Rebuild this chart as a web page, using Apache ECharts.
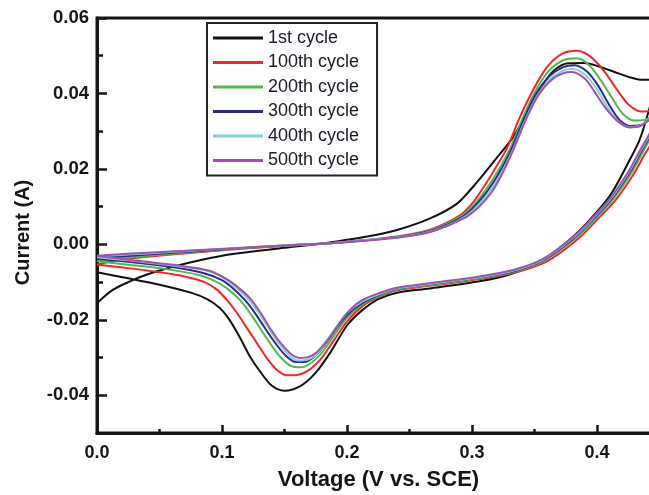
<!DOCTYPE html>
<html>
<head>
<meta charset="utf-8">
<script src="https://cdn.jsdelivr.net/npm/echarts@6/dist/echarts.min.js"></script>
<style>
  html, body { margin: 0; padding: 0; background: #fff; }
  #chart { width: 649px; height: 495px; }
</style>
</head>
<body>
<div id="chart"></div>
<script>
// Cyclic voltammograms, [voltage (V vs. SCE), current (A)], anodic sweep then cathodic sweep
const cycle1st = [
  [0, -0.0156], [0.012, -0.0122], [0.025, -0.0100], [0.04, -0.0080], [0.06, -0.0060], [0.085, -0.0040],
  [0.11, -0.0025], [0.15, -0.0009], [0.186, 0.0005], [0.215, 0.0020], [0.24, 0.0038], [0.266, 0.0068],
  [0.288, 0.0108], [0.304, 0.0165], [0.318, 0.0222], [0.333, 0.0285], [0.345, 0.0355], [0.356, 0.0420],
  [0.366, 0.0462], [0.377, 0.0480], [0.39, 0.0481], [0.402, 0.0471], [0.414, 0.0457], [0.426, 0.0443],
  [0.436, 0.0436], [0.448, 0.0437],
  [0.4415, 0.0355], [0.434, 0.0276], [0.426, 0.0223], [0.418, 0.0172], [0.41, 0.0127], [0.394, 0.0064],
  [0.378, 0.0012], [0.354, -0.0048], [0.33, -0.0080], [0.306, -0.0098], [0.266, -0.0117], [0.24, -0.0128],
  [0.225, -0.0145], [0.212, -0.0175], [0.2, -0.0215], [0.187, -0.0285], [0.175, -0.0340], [0.163, -0.0375],
  [0.15, -0.0388], [0.14, -0.0375], [0.13, -0.0335], [0.122, -0.0295], [0.114, -0.0245], [0.106, -0.0200],
  [0.098, -0.0168], [0.088, -0.0145], [0.075, -0.0128], [0.05, -0.0107], [0.025, -0.0090], [0, -0.0074]
];
const cycle100th = [
  [0, -0.0054], [0.015, -0.0043], [0.04, -0.0033], [0.07, -0.0024], [0.11, -0.0013], [0.15, -0.0004],
  [0.186, 0.0003], [0.226, 0.0015], [0.25, 0.0026], [0.27, 0.0043], [0.29, 0.0076], [0.3, 0.0108],
  [0.309, 0.0150], [0.318, 0.0198], [0.328, 0.0255], [0.338, 0.0335], [0.349, 0.0410], [0.36, 0.0470],
  [0.372, 0.0505], [0.384, 0.0513], [0.395, 0.0497], [0.406, 0.0458], [0.416, 0.0410], [0.426, 0.0368],
  [0.436, 0.0352], [0.452, 0.0360],
  [0.444, 0.0272], [0.438, 0.0238], [0.43, 0.0190], [0.415, 0.0118], [0.4, 0.0065], [0.384, 0.0012],
  [0.36, -0.0045], [0.335, -0.0074], [0.306, -0.0092], [0.266, -0.0110], [0.24, -0.0122], [0.225, -0.0140],
  [0.212, -0.0165], [0.2, -0.0205], [0.19, -0.0252], [0.18, -0.0300], [0.17, -0.0332], [0.16, -0.0346],
  [0.152, -0.0347], [0.144, -0.0333], [0.136, -0.0302], [0.128, -0.0262], [0.12, -0.0222], [0.112, -0.0182],
  [0.104, -0.0148], [0.096, -0.0120], [0.086, -0.0100], [0.07, -0.0085], [0.05, -0.0074], [0.025, -0.0063],
  [0, -0.0054]
];
const cycle200th = [
  [0, -0.0045], [0.015, -0.0038], [0.04, -0.0030], [0.07, -0.0022], [0.11, -0.0012], [0.15, -0.0004],
  [0.186, 0.0003], [0.226, 0.0015], [0.25, 0.0025], [0.27, 0.0041], [0.29, 0.0072], [0.3, 0.0100],
  [0.31, 0.0140], [0.32, 0.0190], [0.33, 0.0250], [0.34, 0.0330], [0.35, 0.0402], [0.361, 0.0458],
  [0.373, 0.0488], [0.384, 0.0493], [0.394, 0.0474], [0.404, 0.0430], [0.413, 0.0383], [0.421, 0.0345],
  [0.43, 0.0328], [0.438, 0.0330], [0.45, 0.0355],
  [0.443, 0.0285], [0.437, 0.0247], [0.428, 0.0192], [0.413, 0.0120], [0.398, 0.0066], [0.382, 0.0014],
  [0.358, -0.0043], [0.335, -0.0072], [0.306, -0.0090], [0.266, -0.0108], [0.24, -0.0120], [0.225, -0.0138],
  [0.212, -0.0160], [0.2, -0.0195], [0.19, -0.0240], [0.18, -0.0287], [0.171, -0.0315], [0.163, -0.0326],
  [0.155, -0.0322], [0.147, -0.0300], [0.139, -0.0265], [0.131, -0.0225], [0.123, -0.0185], [0.115, -0.0150],
  [0.106, -0.0122], [0.096, -0.0100], [0.08, -0.0080], [0.052, -0.0064], [0.025, -0.0054], [0, -0.0045]
];
const cycle300th = [
  [0, -0.0038], [0.015, -0.0033], [0.04, -0.0027], [0.07, -0.0020], [0.11, -0.0011], [0.15, -0.0003],
  [0.186, 0.0003], [0.226, 0.0014], [0.25, 0.0024], [0.27, 0.0039], [0.29, 0.0068], [0.3, 0.0094],
  [0.311, 0.0135], [0.321, 0.0185], [0.331, 0.0248], [0.341, 0.0328], [0.351, 0.0398], [0.362, 0.0446],
  [0.373, 0.0470], [0.382, 0.0475], [0.392, 0.0458], [0.401, 0.0420], [0.41, 0.0368], [0.418, 0.0330],
  [0.427, 0.0314], [0.436, 0.0318], [0.448, 0.0350],
  [0.4425, 0.0290], [0.436, 0.0250], [0.427, 0.0195], [0.412, 0.0122], [0.397, 0.0067], [0.381, 0.0015],
  [0.357, -0.0042], [0.335, -0.0070], [0.306, -0.0088], [0.266, -0.0106], [0.24, -0.0118], [0.225, -0.0135],
  [0.212, -0.0156], [0.2, -0.0188], [0.19, -0.0230], [0.181, -0.0272], [0.173, -0.0300], [0.166, -0.0312],
  [0.159, -0.0312], [0.151, -0.0295], [0.143, -0.0263], [0.135, -0.0225], [0.127, -0.0185], [0.119, -0.0150],
  [0.11, -0.0120], [0.1, -0.0095], [0.085, -0.0076], [0.06, -0.0060], [0.03, -0.0048], [0, -0.0038]
];
const cycle400th = [
  [0, -0.0032], [0.015, -0.0029], [0.04, -0.0024], [0.07, -0.0018], [0.11, -0.0010], [0.15, -0.0003],
  [0.186, 0.0003], [0.226, 0.0014], [0.25, 0.0023], [0.27, 0.0037], [0.29, 0.0065], [0.301, 0.0090],
  [0.312, 0.0130], [0.322, 0.0180], [0.332, 0.0245], [0.342, 0.0325], [0.352, 0.0393], [0.363, 0.0440],
  [0.374, 0.0462], [0.381, 0.0465], [0.391, 0.0448], [0.4, 0.0410], [0.409, 0.0360], [0.417, 0.0325],
  [0.426, 0.0311], [0.435, 0.0316], [0.448, 0.0350],
  [0.442, 0.0290], [0.4355, 0.0252], [0.4265, 0.0197], [0.4115, 0.0123], [0.3965, 0.0068], [0.3805, 0.0016],
  [0.3565, -0.0041], [0.335, -0.0068], [0.306, -0.0087], [0.266, -0.0105], [0.24, -0.0117], [0.225, -0.0133],
  [0.212, -0.0152], [0.2, -0.0182], [0.191, -0.0222], [0.182, -0.0265], [0.175, -0.0293], [0.168, -0.0306],
  [0.161, -0.0308], [0.153, -0.0292], [0.145, -0.0260], [0.137, -0.0220], [0.129, -0.0180], [0.121, -0.0145],
  [0.112, -0.0117], [0.102, -0.0090], [0.088, -0.0070], [0.062, -0.0057], [0.03, -0.0044], [0, -0.0034]
];
const cycle500th = [
  [0, -0.0030], [0.015, -0.0027], [0.04, -0.0022], [0.07, -0.0017], [0.11, -0.0010], [0.15, -0.0003],
  [0.186, 0.0003], [0.226, 0.0013], [0.25, 0.0022], [0.27, 0.0036], [0.293, 0.0068], [0.305, 0.0098],
  [0.315, 0.0135], [0.323, 0.0180], [0.333, 0.0250], [0.343, 0.0330], [0.353, 0.0395], [0.365, 0.0440],
  [0.376, 0.0456], [0.38, 0.0457], [0.39, 0.0440], [0.398, 0.0405], [0.406, 0.0365], [0.416, 0.0328],
  [0.426, 0.0310], [0.435, 0.0314], [0.448, 0.0348],
  [0.4415, 0.0290], [0.435, 0.0253], [0.426, 0.0198], [0.411, 0.0124], [0.396, 0.0069], [0.38, 0.0017],
  [0.356, -0.0040], [0.335, -0.0066], [0.306, -0.0085], [0.266, -0.0103], [0.24, -0.0115], [0.225, -0.0130],
  [0.212, -0.0148], [0.202, -0.0175], [0.193, -0.0213], [0.184, -0.0255], [0.176, -0.0285], [0.169, -0.0299],
  [0.162, -0.0301], [0.155, -0.0290], [0.147, -0.0262], [0.139, -0.0225], [0.131, -0.0182], [0.123, -0.0145],
  [0.115, -0.0120], [0.105, -0.0095], [0.09, -0.0070], [0.065, -0.0056], [0.03, -0.0043], [0, -0.0030]
];

const cycleNames = ['1st cycle', '100th cycle', '200th cycle', '300th cycle', '400th cycle', '500th cycle'];
const cycleData = [cycle1st, cycle100th, cycle200th, cycle300th, cycle400th, cycle500th];
const cycleColors = ['#111111', '#f2262a', '#52b848', '#2c2a8e', '#82d2d2', '#a052ac'];

const currentTicks = [-0.04, -0.02, 0, 0.02, 0.04, 0.06];

const FONT = '"Liberation Sans", Arial, sans-serif';
const INK = '#151515';

const chart = echarts.init(document.getElementById('chart'), null, { renderer: 'canvas' });

chart.setOption({
  animation: false,
  backgroundColor: '#ffffff',
  grid: {
    left: 97, top: 18, bottom: 62, right: -73,
    outerBoundsMode: 'none',
    containLabel: false,
    show: true, borderColor: INK, borderWidth: 3, backgroundColor: 'transparent'
  },
  legend: {
    orient: 'vertical',
    left: 207, top: 23,
    data: cycleNames.map((n, i) => ({ name: n, icon: 'rect', itemStyle: { color: cycleColors[i] } })),
    itemWidth: 50, itemHeight: 3, itemGap: 6.5,
    padding: [6, 18, 6, 6],
    backgroundColor: '#ffffff',
    borderColor: '#222222', borderWidth: 2, borderRadius: 0,
    textStyle: { fontFamily: FONT, fontSize: 18, color: '#1a1a28' }
  },
  xAxis: {
    type: 'value',
    min: 0, max: 0.5, interval: 0.1,
    name: 'Voltage (V vs. SCE)',
    nameLocation: 'middle', nameGap: 36,
    nameTextStyle: { fontFamily: FONT, fontSize: 22, fontWeight: 'bold', color: INK, padding: [0, 62, 0, 0] },
    axisLine: { show: true, onZero: false, lineStyle: { color: INK, width: 3 } },
    axisTick: { show: true, inside: true, length: 8, lineStyle: { color: INK, width: 2.5 } },
    minorTick: { show: true, splitNumber: 2, length: 4, lineStyle: { color: INK, width: 2.5 } },
    splitLine: { show: false },
    axisLabel: {
      margin: 11, fontFamily: FONT, fontSize: 18, fontWeight: 'bold', color: INK,
      formatter: v => v.toFixed(1)
    }
  },
  yAxis: [
    {
      type: 'value',
      min: -0.05, max: 0.06, interval: 0.01,
      name: 'Current (A)',
      nameLocation: 'middle', nameGap: 64,
      nameTextStyle: { fontFamily: FONT, fontSize: 20, fontWeight: 'bold', color: INK, padding: [0, 14, 0, 0] },
      axisLine: { show: true, onZero: false, lineStyle: { color: INK, width: 3 } },
      axisTick: { show: true, inside: true, length: 6, lineStyle: { color: INK, width: 2.5 } },
      splitLine: { show: false },
      axisLabel: {
        margin: 8, fontFamily: FONT, fontSize: 18.5, fontWeight: 'bold', color: INK,
        customValues: currentTicks,
        formatter: v => v.toFixed(2)
      }
    },
    {
      type: 'value',
      position: 'left',
      min: -0.05, max: 0.06,
      axisLine: { show: false, onZero: false },
      axisTick: { show: true, inside: true, length: 10, customValues: currentTicks, lineStyle: { color: INK, width: 2.5 } },
      axisLabel: { show: false },
      splitLine: { show: false }
    }
  ],
  series: cycleData.map((pts, i) => ({
    name: cycleNames[i],
    type: 'line',
    data: pts,
    yAxisIndex: 0,
    smooth: 0.3,
    symbol: 'none',
    clip: true,
    lineStyle: { color: cycleColors[i], width: 2 },
    itemStyle: { color: cycleColors[i] },
    z: 2 + i
  }))
});
</script>
</body>
</html>
